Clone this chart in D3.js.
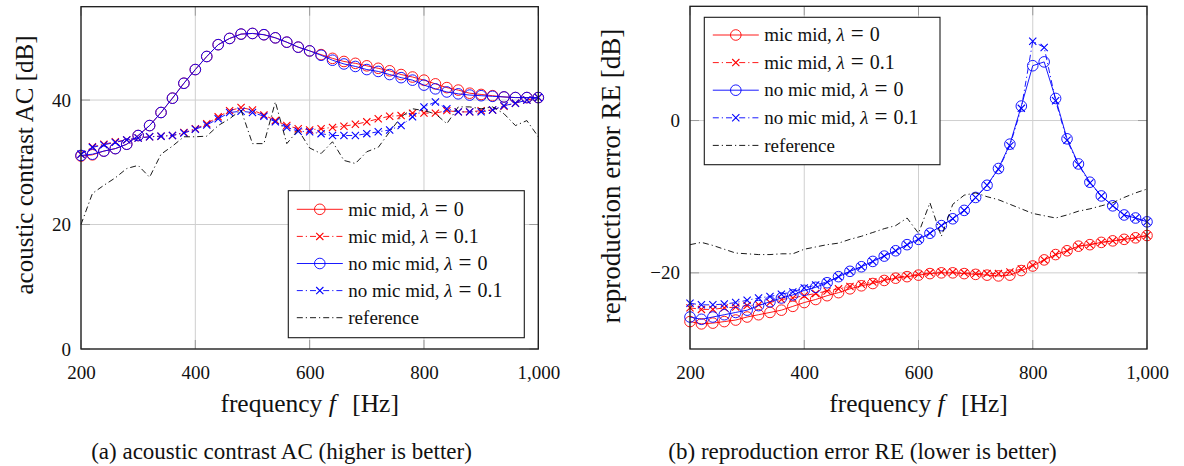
<!DOCTYPE html>
<html>
<head>
<meta charset="utf-8">
<script src="https://cdn.jsdelivr.net/npm/d3@7"></script>
<style>
  html, body { margin: 0; padding: 0; background: #fff; }
  svg { display: block; }
  text { font-family: "Liberation Serif", "DejaVu Serif", serif; fill: #111; }
</style>
</head>
<body>
<svg id="fig" width="1184" height="466"></svg>
<script>
// Frequency grid [Hz]
const freqHz = [200, 220, 240, 260, 280, 300, 320, 340, 360, 380, 400, 420, 440, 460, 480,
  500, 520, 540, 560, 580, 600, 620, 640, 660, 680, 700, 720, 740, 760, 780, 800,
  820, 840, 860, 880, 900, 920, 940, 960, 980, 1000];

// (a) acoustic contrast AC [dB]
const acMicMid0 = [31.0, 31.2, 31.8, 32.2, 32.9, 34.3, 35.9, 38.0, 40.3, 42.7, 44.9, 47.0, 48.9, 49.9, 50.6,
  50.7, 50.5, 50.0, 49.3, 48.5, 47.9, 47.3, 46.7, 46.2, 45.9, 45.5, 45.1, 44.7, 44.1, 43.7, 43.2,
  42.6, 42.0, 41.6, 41.1, 40.9, 40.7, 40.5, 40.4, 40.4, 40.4];
const acMicMid01 = [31.3, 32.5, 32.9, 33.3, 33.6, 33.9, 34.1, 34.2, 34.3, 34.8, 35.4, 36.2, 37.3, 38.3, 38.8,
  38.4, 37.6, 36.7, 35.9, 35.4, 35.2, 35.4, 35.6, 35.8, 36.1, 36.5, 37.0, 37.4, 37.5, 37.9, 37.9,
  37.9, 38.3, 38.1, 38.1, 38.3, 38.4, 39.0, 39.5, 40.0, 40.4];
const acNoMicMid0 = [31.1, 31.3, 31.8, 32.2, 32.9, 34.3, 35.9, 38.0, 40.3, 42.7, 44.9, 47.0, 48.9, 49.9, 50.6,
  50.7, 50.5, 50.0, 49.3, 48.5, 47.9, 47.2, 46.4, 45.8, 45.4, 44.9, 44.6, 44.1, 43.6, 43.2, 42.4,
  41.8, 41.3, 41.0, 40.8, 40.7, 40.6, 40.5, 40.4, 40.4, 40.4];
const acNoMicMid01 = [31.3, 32.4, 32.8, 33.2, 33.6, 33.9, 34.1, 34.2, 34.3, 34.7, 35.3, 36.0, 37.0, 38.0, 38.2,
  38.0, 37.4, 36.5, 35.6, 35.0, 34.9, 34.6, 34.3, 34.3, 34.3, 34.6, 34.9, 35.2, 35.9, 37.3, 38.9,
  39.7, 38.6, 38.1, 38.1, 38.1, 38.4, 39.1, 39.5, 40.0, 40.4];
const acReference = [20.0, 25.0, 26.3, 27.5, 29.0, 29.5, 27.6, 31.3, 32.6, 34.1, 34.1, 34.2, 35.9, 37.0, 38.4,
  33.0, 33.0, 39.7, 33.0, 35.2, 32.3, 31.4, 33.3, 30.3, 29.8, 31.7, 32.4, 34.9, 37.3, 38.6, 38.3,
  37.8, 36.2, 38.9, 38.9, 38.6, 38.9, 37.8, 35.9, 36.7, 34.1];

// (b) reproduction error RE [dB]
const reMicMid0 = [-26.4, -26.7, -26.6, -26.4, -26.2, -25.8, -25.5, -25.2, -24.9, -24.4, -23.9, -23.5, -23.0, -22.6, -22.1,
  -21.7, -21.4, -21.0, -20.7, -20.5, -20.3, -20.1, -20.0, -20.0, -20.1, -20.2, -20.3, -20.4, -20.3, -19.7, -19.1,
  -18.3, -17.6, -17.1, -16.5, -16.3, -16.0, -15.8, -15.6, -15.4, -15.1];
const reMicMid01 = [-24.6, -24.8, -24.8, -24.6, -24.5, -24.3, -24.2, -23.9, -23.5, -23.3, -23.0, -22.7, -22.4, -22.1, -21.8,
  -21.5, -21.2, -20.9, -20.6, -20.4, -20.2, -20.0, -19.9, -19.9, -20.0, -20.1, -20.1, -20.1, -19.9, -19.5, -19.0,
  -18.3, -17.6, -17.1, -16.5, -16.3, -16.0, -15.8, -15.6, -15.4, -15.1];
const reNoMicMid0 = [-25.8, -26.1, -25.8, -25.5, -25.2, -24.9, -24.3, -23.8, -23.3, -22.9, -22.3, -21.9, -21.3, -20.5, -19.8,
  -19.2, -18.5, -17.8, -17.1, -16.3, -15.6, -14.8, -13.8, -12.9, -11.8, -10.1, -8.5, -6.3, -3.1, 1.9, 7.2,
  7.7, 2.9, -2.4, -5.7, -8.1, -9.9, -11.2, -12.4, -12.8, -13.3];
const reNoMicMid01 = [-24.0, -24.2, -24.2, -24.1, -23.9, -23.6, -23.3, -23.1, -22.8, -22.5, -22.0, -21.6, -21.2, -20.5, -19.8,
  -19.2, -18.5, -17.8, -17.1, -16.3, -15.6, -14.8, -13.8, -12.9, -11.8, -10.1, -8.5, -6.4, -3.3, 1.6, 10.4,
  9.6, 2.6, -2.6, -5.8, -8.2, -9.9, -11.2, -12.4, -12.8, -13.3];
const reReference = [-16.3, -16.0, -16.4, -16.9, -17.4, -17.5, -17.6, -17.6, -17.5, -17.5, -16.9, -16.6, -16.3, -16.1, -15.6,
  -15.2, -14.7, -14.2, -13.8, -12.8, -14.8, -10.8, -15.2, -11.0, -9.8, -9.5, -10.0, -10.4, -11.0, -11.6, -12.2,
  -12.5, -12.8, -12.4, -11.9, -11.6, -11.2, -10.8, -10.1, -9.5, -9.0];

// Axis ticks
const freqTicks = [200, 400, 600, 800, 1000];
const acTicks = [0, 20, 40];
const reTicks = [-20, 0];

// Legend entries
const legendNames = ["mic mid", "mic mid", "no mic mid", "no mic mid", "reference"];
const legendLambda = ["0", "0.1", "0", "0.1", null];

const RED = "#ff0000", BLUE = "#0000ff";
const DASHDOT = "6,3,1.2,3";

function seriesStyles(vals) {
  return [
    { values: vals[0], color: RED, dash: null, marker: "circle" },
    { values: vals[1], color: RED, dash: DASHDOT, marker: "cross" },
    { values: vals[2], color: BLUE, dash: null, marker: "circle" },
    { values: vals[3], color: BLUE, dash: DASHDOT, marker: "cross" },
    { values: vals[4], color: "#000", dash: DASHDOT, marker: null }
  ];
}

const svg = d3.select("#fig");
const crossPath = "M-3.6,-3.6L3.6,3.6M-3.6,3.6L3.6,-3.6";

function drawMarker(g, kind, color) {
  if (kind === "circle") {
    g.append("circle").attr("r", 5.3).attr("fill", "none")
      .attr("stroke", color).attr("stroke-width", 0.9);
  } else if (kind === "cross") {
    g.append("path").attr("d", crossPath).attr("fill", "none")
      .attr("stroke", color).attr("stroke-width", 1.1);
  }
}

function panel(cfg) {
  const x = d3.scaleLinear().domain([200, 1000]).range([cfg.left, cfg.right]);
  const y = d3.scaleLinear().domain(cfg.yDomain).range([cfg.bottom, cfg.top]);
  const g = svg.append("g");

  // grid
  g.append("g").selectAll("line").data(freqTicks).join("line")
    .attr("x1", d => x(d)).attr("x2", d => x(d)).attr("y1", cfg.top).attr("y2", cfg.bottom)
    .attr("stroke", "#cfcfcf").attr("stroke-width", 1);
  g.append("g").selectAll("line").data(cfg.yTicks).join("line")
    .attr("y1", d => y(d)).attr("y2", d => y(d)).attr("x1", cfg.left).attr("x2", cfg.right)
    .attr("stroke", "#cfcfcf").attr("stroke-width", 1);

  // inward tick marks on all four sides
  const tl = 9;
  const tickG = g.append("g").attr("stroke", "#9a9a9a").attr("stroke-width", 1);
  freqTicks.forEach(d => {
    tickG.append("line").attr("x1", x(d)).attr("x2", x(d)).attr("y1", cfg.bottom).attr("y2", cfg.bottom - tl);
    tickG.append("line").attr("x1", x(d)).attr("x2", x(d)).attr("y1", cfg.top).attr("y2", cfg.top + tl);
  });
  cfg.yTicks.forEach(d => {
    tickG.append("line").attr("y1", y(d)).attr("y2", y(d)).attr("x1", cfg.left).attr("x2", cfg.left + tl);
    tickG.append("line").attr("y1", y(d)).attr("y2", y(d)).attr("x1", cfg.right).attr("x2", cfg.right - tl);
  });

  // tick labels via d3 axes
  const ax = g.append("g").attr("transform", `translate(0,${cfg.bottom})`)
    .call(d3.axisBottom(x).tickValues(freqTicks).tickFormat(d3.format(",")).tickSize(0).tickPadding(17));
  ax.select(".domain").remove();
  ax.selectAll("text").attr("font-size", 19).attr("font-family", "Liberation Serif").attr("fill", "#111");

  const ay = g.append("g").attr("transform", `translate(${cfg.left},0)`)
    .call(d3.axisLeft(y).tickValues(cfg.yTicks).tickFormat(d3.format("")).tickSize(0).tickPadding(10));
  ay.select(".domain").remove();
  ay.selectAll("text").attr("font-size", 19).attr("font-family", "Liberation Serif").attr("fill", "#111");

  // series
  const line = d3.line().x((d, i) => x(freqHz[i])).y(d => y(d));
  const plot = g.append("g");
  cfg.series.forEach(s => {
    plot.append("path").datum(s.values).attr("d", line)
      .attr("fill", "none").attr("stroke", s.color).attr("stroke-width", 0.9)
      .attr("stroke-dasharray", s.dash);
    if (s.marker) {
      s.values.forEach((v, i) => {
        const m = plot.append("g").attr("transform", `translate(${x(freqHz[i])},${y(v)})`);
        drawMarker(m, s.marker, s.color);
      });
    }
  });

  // frame
  g.append("rect").attr("x", cfg.left).attr("y", cfg.top)
    .attr("width", cfg.right - cfg.left).attr("height", cfg.bottom - cfg.top)
    .attr("fill", "none").attr("stroke", "#1a1a1a").attr("stroke-width", 1.3);

  // legend
  const L = cfg.legend;
  const lg = g.append("g");
  lg.append("rect").attr("x", L.x).attr("y", L.y).attr("width", L.w).attr("height", L.h)
    .attr("fill", "#fff").attr("stroke", "#1a1a1a").attr("stroke-width", 1.1);
  cfg.series.forEach((s, i) => {
    const cy = L.y + L.first + i * L.step;
    lg.append("line").attr("x1", L.x + 8.5).attr("x2", L.x + 54.5).attr("y1", cy).attr("y2", cy)
      .attr("stroke", s.color).attr("stroke-width", 0.9).attr("stroke-dasharray", s.dash);
    if (s.marker) {
      const m = lg.append("g").attr("transform", `translate(${L.x + 31.5},${cy})`);
      drawMarker(m, s.marker, s.color);
    }
    const t = lg.append("text").attr("x", L.x + 60).attr("y", cy).attr("dy", "0.33em")
      .attr("font-size", 19);
    if (legendLambda[i] === null) {
      t.text(legendNames[i]);
    } else {
      t.append("tspan").text(legendNames[i] + ", ");
      t.append("tspan").attr("font-style", "italic").text("λ");
      t.append("tspan").attr("dx", 6).attr("font-size", 23).text("=");
      t.append("tspan").attr("dx", 6).attr("font-size", 20).text(legendLambda[i]);
    }
  });

  // axis titles
  const xt = svg.append("text").attr("x", (cfg.left + cfg.right) / 2).attr("y", 412)
    .attr("text-anchor", "middle").attr("font-size", 25.5);
  xt.append("tspan").text("frequency ");
  xt.append("tspan").attr("font-style", "italic").text("f");
  xt.append("tspan").attr("dx", 10).text(" [Hz]");

  svg.append("text").attr("transform", `translate(${cfg.yTitleX},${cfg.yTitleY}) rotate(-90)`)
    .attr("text-anchor", "middle").attr("font-size", cfg.yTitleSize).text(cfg.yTitle);

  svg.append("text").attr("x", cfg.captionX).attr("y", 459)
    .attr("text-anchor", "middle").attr("font-size", 23).text(cfg.caption);
}

panel({
  left: 81, right: 538.3, top: 6.7, bottom: 349,
  yDomain: [0, 55], yTicks: acTicks,
  series: seriesStyles([acMicMid0, acMicMid01, acNoMicMid0, acNoMicMid01, acReference]),
  legend: { x: 288.3, y: 190.7, w: 236, h: 147, first: 18.6, step: 27.1 },
  yTitle: "acoustic contrast AC [dB]", yTitleX: 33, yTitleY: 165, yTitleSize: 25,
  caption: "(a) acoustic contrast AC (higher is better)", captionX: 281.5
});

panel({
  left: 690, right: 1147, top: 6.3, bottom: 349,
  yDomain: [-30, 15], yTicks: reTicks,
  series: seriesStyles([reMicMid0, reMicMid01, reNoMicMid0, reNoMicMid01, reReference]),
  legend: { x: 704.3, y: 17.3, w: 235.7, h: 147.4, first: 17.7, step: 27.6 },
  yTitle: "reproduction error RE [dB]", yTitleX: 620, yTitleY: 176, yTitleSize: 27,
  caption: "(b) reproduction error RE (lower is better)", captionX: 862.5
});
</script>
</body>
</html>
